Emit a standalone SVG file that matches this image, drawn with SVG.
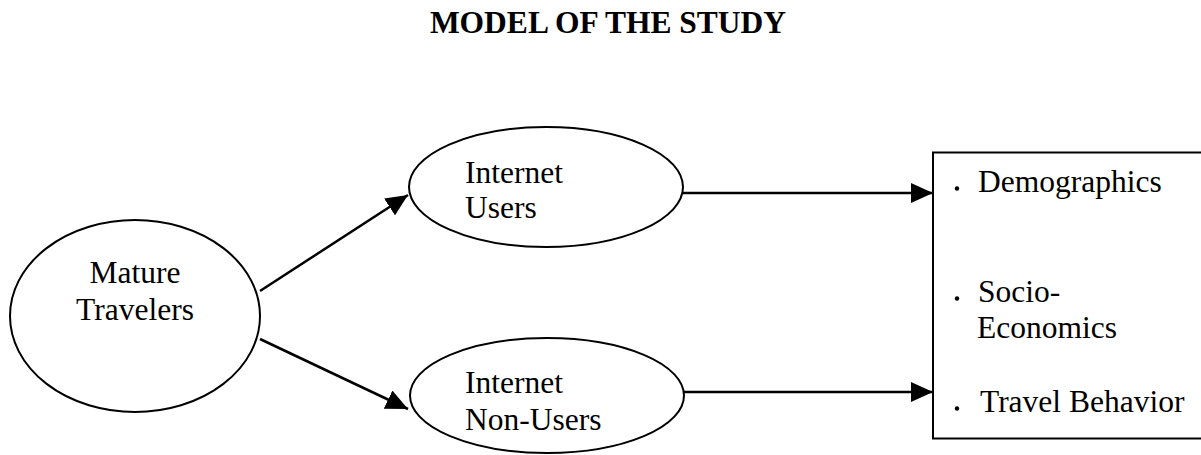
<svg xmlns="http://www.w3.org/2000/svg" width="1201" height="455" viewBox="0 0 1201 455">
  <style>
    .shape { fill: #ffffff; stroke: #000000; stroke-width: 2; }
    .label { font-family: "Liberation Serif", "Times New Roman", serif; font-size: 31.5px; fill: #000000; }
    .title { font-family: "Liberation Serif", "Times New Roman", serif; font-size: 31.5px; font-weight: bold; fill: #000000; }
    .link { fill: none; stroke: #000000; stroke-width: 2.5; }
  </style>
  <defs>
    <marker id="arrow" viewBox="0 0 22 20" refX="22" refY="10" markerWidth="22" markerHeight="20" markerUnits="userSpaceOnUse" orient="auto">
      <path d="M0,0 L22,10 L0,20 Z" fill="#000000"/>
    </marker>
  </defs>

  <rect x="0" y="0" width="1201" height="455" fill="#ffffff"/>

  <text class="title" x="608" y="33" text-anchor="middle">MODEL OF THE STUDY</text>

  <!-- connectors -->
  <g id="connectors">
    <line class="link" x1="260" y1="291" x2="408" y2="195" marker-end="url(#arrow)"/>
    <line class="link" x1="260" y1="339" x2="408" y2="409" marker-end="url(#arrow)"/>
    <line class="link" x1="683" y1="193" x2="933" y2="193" marker-end="url(#arrow)"/>
    <line class="link" x1="684" y1="392" x2="933" y2="392" marker-end="url(#arrow)"/>
  </g>

  <g id="mature-travelers">
    <ellipse class="shape" cx="135" cy="316" rx="125" ry="96"/>
    <text class="label" x="135" y="283" text-anchor="middle">Mature</text>
    <text class="label" x="135" y="320" text-anchor="middle">Travelers</text>
  </g>

  <g id="internet-users">
    <ellipse class="shape" cx="546" cy="187" rx="137" ry="60"/>
    <text class="label" x="465" y="183">Internet</text>
    <text class="label" x="465" y="218">Users</text>
  </g>

  <g id="internet-non-users">
    <ellipse class="shape" cx="547" cy="395.5" rx="137" ry="57.5"/>
    <text class="label" x="465" y="393">Internet</text>
    <text class="label" x="465" y="430">Non-Users</text>
  </g>

  <g id="outcomes">
    <rect class="shape" x="933" y="152.5" width="275" height="286"/>
    <circle cx="957" cy="188.5" r="2.2" fill="#000000"/>
    <text class="label" x="978" y="192">Demographics</text>
    <circle cx="957" cy="298.5" r="2.2" fill="#000000"/>
    <text class="label" x="978" y="302">Socio-</text>
    <text class="label" x="977" y="338">Economics</text>
    <circle cx="957" cy="408.5" r="2.2" fill="#000000"/>
    <text class="label" x="980" y="412">Travel Behavior</text>
  </g>
</svg>
